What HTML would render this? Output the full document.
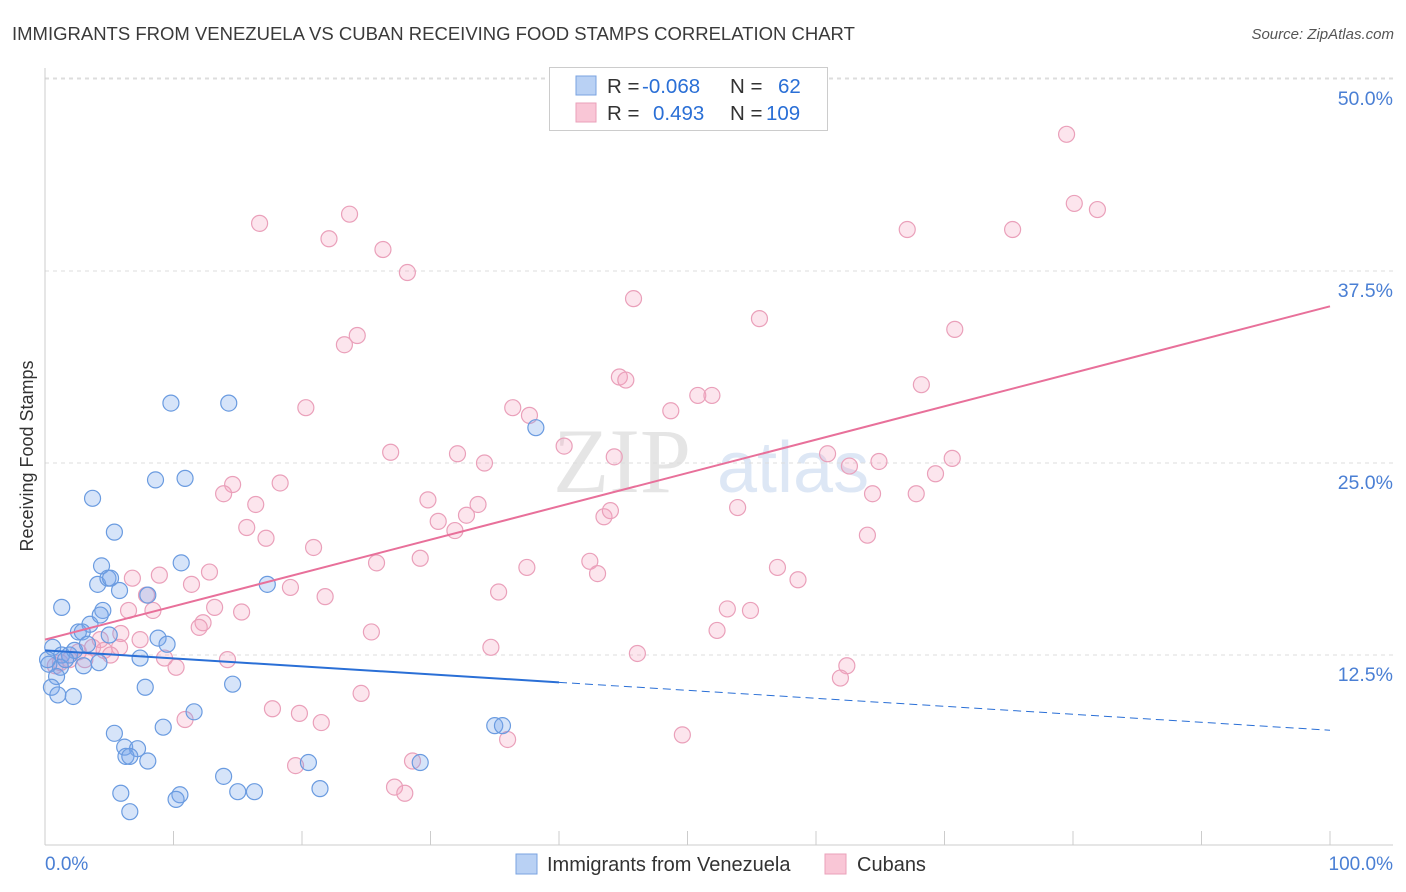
<!DOCTYPE html>
<html><head><meta charset="utf-8"><style>
body{margin:0;background:#fff;font-family:"Liberation Sans",sans-serif;}
svg{display:block}
</style></head><body>
<svg id="chart" width="1406" height="892" xmlns="http://www.w3.org/2000/svg">
<text x="12" y="40" font-size="18.5" fill="#3a3a3a">IMMIGRANTS FROM VENEZUELA VS CUBAN RECEIVING FOOD STAMPS CORRELATION CHART</text>
<text x="1394" y="39" font-size="15" fill="#555" font-style="italic" text-anchor="end">Source: ZipAtlas.com</text>
<text transform="translate(33,456) rotate(-90)" font-size="18" fill="#333" text-anchor="middle">Receiving Food Stamps</text>
<g><text x="553" y="492" font-size="92" fill="#ddd" font-family="Liberation Serif,serif" opacity="0.75">ZIP</text><text x="717" y="492" font-size="72" fill="#c8d8f0" opacity="0.6">atlas</text></g>
<g id="grid"></g><g id="axes"></g><g id="pts"></g><g id="trend"></g>
<g>
<rect x="549.5" y="67.5" width="278" height="63" fill="#fff" stroke="#ccc"/>
<rect x="576" y="76" width="20" height="19" fill="#b9d1f4" stroke="#7aa3e0"/>
<rect x="576" y="103" width="20" height="19" fill="#f9c6d6" stroke="#eaa0ba"/>
<text x="607" y="93" font-size="20.5" fill="#333">R = <tspan x="642" fill="#2a6fd6">-0.068</tspan><tspan x="730">N = </tspan><tspan x="778" fill="#2a6fd6">62</tspan></text>
<text x="607" y="120" font-size="20.5" fill="#333">R = <tspan x="653" fill="#2a6fd6">0.493</tspan><tspan x="730">N = </tspan><tspan x="766" fill="#2a6fd6">109</tspan></text>
</g>
<g>
<rect x="516" y="854" width="21" height="20" fill="#b9d1f4" stroke="#7aa3e0"/>
<text x="547" y="871" font-size="20" fill="#333">Immigrants from Venezuela</text>
<rect x="825" y="854" width="21" height="20" fill="#f9c6d6" stroke="#eaa0ba"/>
<text x="857" y="871" font-size="20" fill="#333">Cubans</text>
</g>
</svg>
<script>
const xTickLabels=["0.0%","100.0%"];
const yTicks=[12.5,25,37.5,50];
const yTickLabels=["12.5%","25.0%","37.5%","50.0%"];
const blueX=[9.8,14.3,38.2,3.7,8.6,10.9,5.4,10.6,4.4,4.1,4.9,5.1,17.3,1.3,4.5,8.0,5.8,3.5,2.6,2.9,5.0,8.8,9.5,0.6,1.3,1.9,2.3,3.3,4.2,3.0,7.4,1.2,0.3,0.9,0.5,1.0,2.2,7.8,14.6,11.6,9.2,35.0,35.6,5.4,6.2,7.2,6.3,6.6,8.0,13.9,20.5,29.2,5.9,10.5,10.2,15.0,16.3,21.4,6.6,1.6,0.2,4.3];
const blueY=[28.9,28.9,27.3,22.7,23.9,24.0,20.5,18.5,18.3,17.1,17.5,17.5,17.1,15.6,15.4,16.4,16.7,14.5,14.0,14.0,13.8,13.6,13.2,13.0,12.5,12.5,12.8,13.2,12.0,11.8,12.3,11.7,11.9,11.1,10.4,9.9,9.8,10.4,10.6,8.8,7.8,7.9,7.9,7.4,6.5,6.4,5.9,5.9,5.6,4.6,5.5,5.5,3.5,3.4,3.1,3.6,3.6,3.8,2.3,12.2,12.2,15.1];
const pinkX=[79.5,80.1,81.9,67.1,75.3,16.7,23.7,22.1,26.3,28.2,45.8,55.6,70.8,24.3,23.3,44.7,45.2,68.2,50.8,51.9,20.3,36.4,37.7,48.7,40.4,26.9,32.1,34.2,44.3,60.9,62.6,64.9,70.6,69.3,18.3,14.6,13.9,64.4,67.8,29.8,33.7,32.8,43.5,44.0,53.9,16.4,30.6,31.9,15.7,17.2,64.0,20.9,29.2,25.8,42.4,37.5,43.0,57.0,58.6,12.8,8.9,6.8,11.4,19.1,21.8,35.3,7.9,8.4,6.5,13.2,15.3,53.1,54.9,12.3,12.0,5.9,25.4,52.3,7.4,4.3,4.6,3.7,2.6,5.8,9.3,10.2,14.2,34.7,46.1,62.4,61.9,24.6,17.7,19.8,21.5,10.9,36.0,49.6,19.5,28.6,27.2,28.0,1.9,1.2,3.1,0.8,5.1];
const pinkY=[46.4,41.9,41.5,40.2,40.2,40.6,41.2,39.6,38.9,37.4,35.7,34.4,33.7,33.3,32.7,30.6,30.4,30.1,29.4,29.4,28.6,28.6,28.1,28.4,26.1,25.7,25.6,25.0,25.4,25.6,24.8,25.1,25.3,24.3,23.7,23.6,23.0,23.0,23.0,22.6,22.3,21.6,21.5,21.9,22.1,22.3,21.2,20.6,20.8,20.1,20.3,19.5,18.8,18.5,18.6,18.2,17.8,18.2,17.4,17.9,17.7,17.5,17.1,16.9,16.3,16.6,16.4,15.4,15.4,15.6,15.3,15.5,15.4,14.6,14.3,13.9,14.0,14.1,13.5,13.5,12.8,13.0,12.7,13.0,12.3,11.7,12.2,13.0,12.6,11.8,11.0,10.0,9.0,8.7,8.1,8.3,7.0,7.3,5.3,5.6,3.9,3.5,12.2,12.0,12.2,11.8,12.5];
const blueTrend=[12.8,7.6];
const pinkTrend=[13.5,35.2];
const blueSolidEnd=40;

const NS="http://www.w3.org/2000/svg";
const X0=45,X1=1330,YB=847,PXY=15.36;
const sx=v=>X0+(X1-X0)*v/100;
const sy=v=>YB-v*PXY;
function mk(tag,attrs,parent){const e=document.createElementNS(NS,tag);for(const k in attrs)e.setAttribute(k,attrs[k]);document.getElementById(parent).appendChild(e);return e;}

yTicks.forEach((t,i)=>{
  const g=mk('line',{x1:X0,x2:1393,y1:sy(t),y2:sy(t),stroke:'#ddd','stroke-dasharray':'4,4'},'grid');
  
  
  const l=mk('text',{x:1393,y:sy(t)+26,'font-size':19.5,fill:'#4a7fd4','text-anchor':'end'},'axes');
  l.textContent=yTickLabels[i];
  
  
});
mk('line',{x1:X0,x2:1393,y1:78,y2:78,stroke:'#ddd','stroke-dasharray':'4,4'},'grid');
const ya=mk('line',{x1:X0,x2:X0,y1:68,y2:845,stroke:'#ccc'},'axes');


const xa=mk('line',{x1:X0,x2:1393,y1:845,y2:845,stroke:'#ccc'},'axes');


for(let i=0;i<=10;i++){const t=mk('line',{x1:sx(i*10),x2:sx(i*10),y1:831,y2:845,stroke:'#ccc'},'axes');

}
const xl0=mk('text',{x:45,y:870,'font-size':19,fill:'#4a7fd4'},'axes');xl0.textContent=xTickLabels[0];


const xl1=mk('text',{x:1393,y:870,'font-size':19,fill:'#4a7fd4','text-anchor':'end'},'axes');xl1.textContent=xTickLabels[1];



pinkX.forEach((v,i)=>{const c=mk('circle',{cx:sx(v),cy:sy(pinkY[i]),r:8,fill:'rgba(245,160,190,0.28)',stroke:'#eaa0ba','stroke-width':1.2},'pts');

});
blueX.forEach((v,i)=>{const c=mk('circle',{cx:sx(v),cy:sy(blueY[i]),r:8,fill:'rgba(120,165,235,0.3)',stroke:'#6a9be0','stroke-width':1.2},'pts');

});

const bAt=x=>blueTrend[0]+(blueTrend[1]-blueTrend[0])*x/100;
const b1=mk('line',{x1:sx(0),y1:sy(bAt(0)),x2:sx(blueSolidEnd),y2:sy(bAt(blueSolidEnd)),stroke:'#2a6fd6','stroke-width':2},'trend');


const b2=mk('line',{x1:sx(blueSolidEnd),y1:sy(bAt(blueSolidEnd)),x2:sx(100),y2:sy(bAt(100)),stroke:'#2a6fd6','stroke-width':1,'stroke-dasharray':'8,5'},'trend');


const p1=mk('line',{x1:sx(0),y1:sy(pinkTrend[0]),x2:sx(100),y2:sy(pinkTrend[1]),stroke:'#e8709a','stroke-width':2},'trend');


</script>
</body></html>
